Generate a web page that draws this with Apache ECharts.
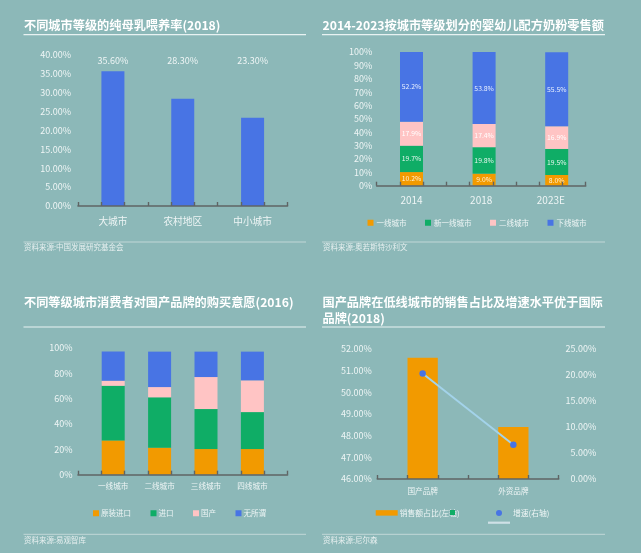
<!DOCTYPE html>
<html><head><meta charset="utf-8">
<style>html,body{margin:0;padding:0;background:#8cb8b8}#c{width:641px;height:553px}</style>
<script src="https://cdn.jsdelivr.net/npm/echarts@6/dist/echarts.min.js"></script>
</head><body><div id="c"></div>
<script>
// Chart 1
const c1Cats = ['大城市','农村地区','中小城市'];
const c1Vals = [35.6,28.3,23.3];
// Chart 2
const c2Cats = ['2014','2018','2023E'];
const c2Tier1 = [10.2,9.0,8.0];
const c2NewTier1 = [19.7,19.8,19.5];
const c2Tier2 = [17.9,17.4,16.9];
const c2Lower = [52.2,53.8,55.5];
// Chart 3
const c3Cats = ['一线城市','二线城市','三线城市','四线城市'];
const c3Orig = [27,21.3,20.2,20.2];
const c3Import = [43,39.6,31.5,29.1];
const c3Domestic = [4,8.1,25.2,25];
const c3Any = [23,27.9,20,22.6];
// Chart 4
const c4Cats = ['国产品牌','外资品牌'];
const c4Share = [51.6,48.4];
const c4Growth = [20.3,6.6];

const FONT = '"Noto Sans CJK SC","Noto Sans",sans-serif';
const ORANGE='#f29a00', GREEN='#0fad66', PINK='#ffc4c4', BLUE='#4874e4', LINE='#a3d3ea';
const TXT='#eef5f5', AXC='#5f6464';

const grid=[], xAxis=[], yAxis=[], series=[], title=[], legend=[], graphic=[];

function addGrid(l,r,t,b){grid.push({left:l,width:r-l,top:t,height:b-t,containLabel:false});return grid.length-1;}
function tickAxis(g,n){
  xAxis.push({gridIndex:g,type:'category',position:'bottom',z:5,data:new Array(n).fill(''),
    axisLine:{show:true,lineStyle:{color:AXC,width:1.6}},
    axisTick:{show:true,inside:true,length:4,lineStyle:{color:AXC,width:1.4}},
    axisLabel:{show:false},splitLine:{show:false}});
  return xAxis.length-1;
}
function catAxis(g,data,fs,margin,showLabel){
  xAxis.push({gridIndex:g,type:'category',position:'bottom',data,
    axisLine:{show:false},axisTick:{show:false},
    axisLabel:{show:showLabel,interval:0,fontSize:fs,color:TXT,margin,fontFamily:FONT},splitLine:{show:false}});
  return xAxis.length-1;
}
function valAxis(g,o){
  yAxis.push(Object.assign({gridIndex:g,type:'value',splitLine:{show:false},axisLine:{show:false},axisTick:{show:false}},o));
  return yAxis.length-1;
}
function lab(fmt,fs,margin,extra){return Object.assign({fontSize:fs,color:TXT,fontFamily:FONT,margin,formatter:fmt},extra||{});}
function head(text,x,y){title.push({text,left:x,top:y,textStyle:{color:'#fff',fontSize:12.2,fontWeight:'bold',fontFamily:FONT,lineHeight:15.5},padding:0});}
function rule(x1,x2,y,w,col){graphic.push({type:'line',silent:true,shape:{x1,y1:y,x2,y2:y},style:{stroke:col||'#e8f2f2',lineWidth:w||1}});}
function src(text,x,y){graphic.push({type:'text',silent:true,x,y,style:{text,fontSize:7.5,fill:'#e6efef',fontFamily:FONT,verticalAlign:'middle'}});}

// ---- Chart 1
head('不同城市等级的纯母乳喂养率(2018)',24,17.5);
rule(23.5,306,34.7,1.2); rule(23.5,306,242,0.8,'#cfe0e0'); src('资料来源:中国发展研究基金会',24,247.5);
{
  const g=addGrid(78,287.5,54.5,206);
  const xa=catAxis(g,c1Cats,9.7,10,true); tickAxis(g,9);
  const ya=valAxis(g,{min:0,max:40,interval:5,axisLabel:lab(v=>v.toFixed(2)+'%',9,7,{padding:[0,0,5,0]})});
  series.push({type:'bar',name:'纯母乳喂养率',xAxisIndex:xa,yAxisIndex:ya,barWidth:23,data:c1Vals,itemStyle:{color:BLUE}});
  series.push({type:'scatter',xAxisIndex:xa,yAxisIndex:ya,symbolSize:1,silent:true,itemStyle:{opacity:0},data:c1Vals.map(()=>38.4),
    label:{show:true,position:'inside',opacity:1,fontSize:9,color:TXT,fontFamily:FONT,formatter:p=>c1Vals[p.dataIndex].toFixed(2)+'%'}});
}

// ---- Chart 2
head('2014-2023按城市等级划分的婴幼儿配方奶粉零售额',322.5,17.5);
rule(322,605,34.7,1.2); rule(322,605,242,0.8,'#cfe0e0'); src('资料来源:奥若斯特沙利文',323,247.5);
{
  const g=addGrid(376.7,585.7,52,185.7);
  catAxis(g,c2Cats,10,10,true); tickAxis(g,9);
  valAxis(g,{min:0,max:100,interval:10,axisLabel:lab('{value}%',9,4.5)});
  const gb=addGrid(375.2,593,52,185.7);
  const xb=catAxis(gb,c2Cats,10,10,false);
  const yb=valAxis(gb,{min:0,max:100,show:false});
  const mk=(name,data,color,top)=>series.push({type:'bar',name,stack:'a',xAxisIndex:xb,yAxisIndex:yb,barWidth:23,data,itemStyle:{color},
    label:{show:true,position:'inside',fontSize:6.8,color:top,fontFamily:FONT,formatter:p=>p.value.toFixed(1)+'%'}});
  mk('一线城市',c2Tier1,ORANGE,'#fff2d8');mk('新一线城市',c2NewTier1,GREEN,'#e6f6ee');mk('二线城市',c2Tier2,PINK,'#fff');mk('下线城市',c2Lower,BLUE,'#e8f0ff');
  legend.push({left:367.5,top:219,itemWidth:6,itemHeight:6,itemGap:18.5,icon:'rect',padding:0,
    textStyle:{color:TXT,fontSize:7.5,fontFamily:FONT,padding:[0,0,0,-2]},data:['一线城市','新一线城市','二线城市','下线城市']});
}

// ---- Chart 3
head('不同等级城市消费者对国产品牌的购买意愿(2016)',24,295);
rule(23.5,306,327,1.2); rule(23.5,306,534.3,0.8,'#cfe0e0'); src('资料来源:易观智库',24,540);
{
  const g=addGrid(78,287.5,347.7,474.7);
  tickAxis(g,9);
  valAxis(g,{min:0,max:100,interval:20,axisLabel:lab('{value}%',9,5.5)});
  const gb=addGrid(90,275.6,347.7,474.7);
  const xb=catAxis(gb,c3Cats,7.6,8,true);
  const yb=valAxis(gb,{min:0,max:100,show:false});
  const mk=(name,data,color)=>series.push({type:'bar',name,stack:'b',xAxisIndex:xb,yAxisIndex:yb,barWidth:23,data,itemStyle:{color}});
  mk('原装进口',c3Orig,ORANGE);mk('进口',c3Import,GREEN);mk('国产',c3Domestic,PINK);mk('无所谓',c3Any,BLUE);
  legend.push({left:93,top:509.5,itemWidth:6,itemHeight:6,itemGap:19.5,icon:'rect',padding:0,
    textStyle:{color:TXT,fontSize:7.5,fontFamily:FONT,padding:[0,0,0,-3]},data:['原装进口','进口','国产','无所谓']});
}

// ---- Chart 4
head('国产品牌在低线城市的销售占比及增速水平优于国际\n品牌(2018)',322.5,295);
rule(322,605,327,1.2); rule(322,605,534.3,0.8,'#cfe0e0'); src('资料来源:尼尔森',323,540);
{
  const g=addGrid(377.3,558.7,349,479);
  const xa=catAxis(g,c4Cats,7.6,8,true); tickAxis(g,6);
  const yl=valAxis(g,{min:46,max:52,interval:1,position:'left',axisLabel:lab(v=>v.toFixed(2)+'%',9,5.5)});
  const yr=valAxis(g,{min:0,max:25,interval:5,position:'right',axisLabel:lab(v=>v.toFixed(2)+'%',9,37.5,{align:'right'})});
  series.push({type:'bar',name:'销售额占比(左轴)',xAxisIndex:xa,yAxisIndex:yl,barWidth:30.3,data:c4Share,itemStyle:{color:ORANGE}});
  series.push({type:'line',name:'增速(右轴)',xAxisIndex:xa,yAxisIndex:yr,data:c4Growth,symbol:'circle',symbolSize:6.5,z:6,
    lineStyle:{color:LINE,width:2},itemStyle:{color:BLUE}});
  legend.push({left:375.7,top:509,itemWidth:22,itemHeight:5.5,icon:'rect',padding:0,
    textStyle:{color:TXT,fontSize:7.8,fontFamily:FONT,padding:[0,0,0,-3]},data:[{name:'销售额占比(左轴)',itemStyle:{color:ORANGE}}]});
  legend.push({left:496,top:509,itemWidth:6,itemHeight:6,icon:'circle',padding:0,
    textStyle:{color:TXT,fontSize:7.8,fontFamily:FONT,padding:[0,0,0,6]},data:[{name:'增速(右轴)',itemStyle:{color:BLUE}}]});
  graphic.push({type:'rect',silent:true,z:20,shape:{x:450,y:510,width:5,height:5},style:{fill:GREEN}});
  rule(488,510,522.7,2.2,'#cfe0e6');
}

const chart=echarts.init(document.getElementById('c'),null,{renderer:'canvas'});
chart.setOption({backgroundColor:'#8cb8b8',animation:false,textStyle:{fontFamily:FONT},tooltip:{show:false},
  title,grid,xAxis,yAxis,series,legend,graphic:{elements:graphic}});
</script></body></html>
